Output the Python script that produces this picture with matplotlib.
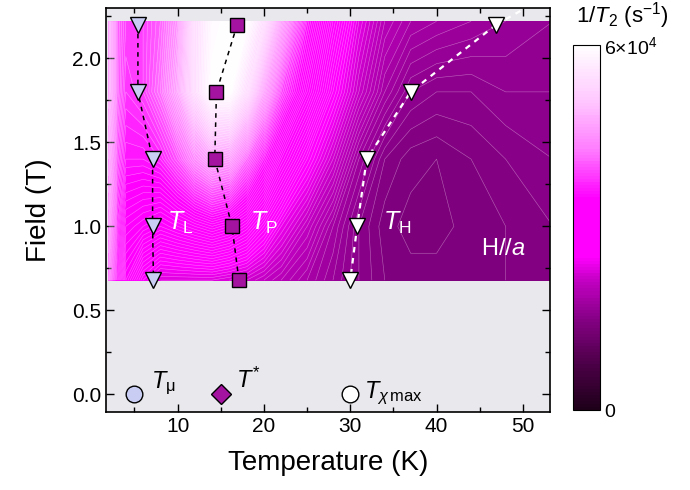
import numpy as np
import matplotlib
matplotlib.use('Agg')
import matplotlib.pyplot as plt
from matplotlib.colors import LinearSegmentedColormap

plt.rcParams['font.family'] = ['Liberation Sans', 'DejaVu Sans']
plt.rcParams['mathtext.fontset'] = 'custom'
plt.rcParams['mathtext.rm'] = 'Liberation Sans'
plt.rcParams['mathtext.it'] = 'Liberation Sans:italic'
plt.rcParams['mathtext.sf'] = 'Liberation Sans'

# 1/T2 map (units of 1e4 s^-1), rows = field, columns = temperature
temps = [2, 3, 4, 6, 8, 10, 12, 14, 16, 18, 20, 22, 25, 28, 31, 34, 37, 40, 44, 48, 53.5]
fields = [0.68, 1.0, 1.4, 1.8, 2.22]
rate_068 = [4.1, 3.4, 2.9, 2.5, 2.3, 2.3, 2.3, 2.3, 2.25, 2.2, 2.1, 2.0, 1.85, 1.7, 1.55, 1.45, 1.42, 1.42, 1.45, 1.45, 1.5]
rate_10 = [4.3, 3.6, 3.2, 3.1, 3.0, 3.1, 3.2, 3.3, 3.2, 3.0, 2.7, 2.4, 2.1, 1.8, 1.55, 1.42, 1.38, 1.38, 1.42, 1.45, 1.5]
rate_14 = [4.5, 3.9, 3.6, 3.6, 3.7, 4.0, 4.4, 4.7, 4.6, 4.1, 3.6, 3.1, 2.6, 2.2, 1.75, 1.5, 1.42, 1.4, 1.45, 1.5, 1.55]
rate_18 = [4.7, 4.1, 3.8, 3.9, 4.2, 4.7, 5.4, 6.0, 6.0, 5.4, 4.6, 3.9, 3.2, 2.6, 2.15, 1.8, 1.6, 1.55, 1.55, 1.6, 1.6]
rate_22 = [4.7, 4.1, 3.9, 3.9, 4.1, 4.5, 5.4, 5.9, 6.0, 6.0, 5.4, 4.6, 3.6, 2.9, 2.35, 2.0, 1.85, 1.8, 1.75, 1.7, 1.65]

# transition points
tl_T = [5.4, 5.4, 7.1, 7.1, 7.2]
tl_H = [2.2, 1.8, 1.4, 1.0, 0.68]
tp_T = [16.9, 14.5, 14.3, 16.3, 17.1]
tp_H = [2.2, 1.8, 1.4, 1.0, 0.68]
th_T = [46.9, 37.0, 31.9, 30.8, 30.0]
th_H = [2.2, 1.8, 1.4, 1.0, 0.68]
th_ext_T = [46.9, 50.0]
th_ext_H = [2.2, 2.29]

# zero-field temperatures
t_mu, t_star, t_chi = 5.0, 15.0, 30.0

lavender = '#c9cdf4'
purple = '#a3139f'

cmap = LinearSegmentedColormap.from_list('rate', [
    (0.0, '#1e0019'), (0.12, '#4a0045'), (0.25, '#860085'), (0.35, '#c000c0'),
    (0.42, '#ff00ff'), (0.58, '#ff00ff'), (0.72, '#ff80ff'), (0.85, '#ffc8ff'),
    (1.0, '#ffffff')])

Z = np.array([rate_068, rate_10, rate_14, rate_18, rate_22]) * 1e4

fig = plt.figure(figsize=(6.9, 4.9), dpi=100)
ax = fig.add_axes([0.1536, 0.159, 0.643, 0.825])
ax.set_facecolor('#e8e8ed')

cf = ax.contourf(temps, fields, Z, levels=np.linspace(0, 6e4, 121), cmap=cmap, vmin=0, vmax=6e4)
ax.contour(temps, fields, Z, levels=np.arange(0.05e4, 6e4, 0.05e4), colors='white',
           linewidths=0.4, alpha=0.4)

dash = (0, (3, 3))
ax.plot(tl_T, tl_H, ls=dash, color='k', lw=1.1, zorder=3)
ax.plot(tp_T, tp_H, ls=dash, color='k', lw=1.1, zorder=3)
ax.plot(th_T, th_H, ls=(0, (2.5, 2.5)), color='white', lw=1.6, zorder=3)
ax.plot(th_ext_T, th_ext_H, ls=(0, (2.5, 2.5)), color='white', lw=1.6, zorder=3)
ax.plot(tl_T, tl_H, 'v', ms=12, mfc=lavender, mec='k', mew=1, ls='none', zorder=4)
ax.plot(tp_T, tp_H, 's', ms=10, mfc=purple, mec='k', mew=1, ls='none', zorder=4)
ax.plot(th_T, th_H, 'v', ms=12, mfc='white', mec='k', mew=1, ls='none', zorder=4)

ax.plot(t_mu, 0, 'o', ms=12, mfc=lavender, mec='k', mew=1, zorder=4)
ax.plot(t_star, 0, 'D', ms=10, mfc=purple, mec='k', mew=1, zorder=4)
ax.plot(t_chi, 0, 'o', ms=12, mfc='white', mec='k', mew=1, zorder=4)

ax.text(8.8, 0.98, r'$T_{\mathrm{L}}$', color='white', fontsize=18)
ax.text(18.4, 0.98, r'$T_{\mathrm{P}}$', color='white', fontsize=18)
ax.text(33.8, 0.98, r'$T_{\mathrm{H}}$', color='white', fontsize=18)
ax.text(45.2, 0.83, r'H//$a$', color='white', fontsize=17)
ax.text(6.9, 0.04, r'$T_{\mathrm{\mu}}$', color='k', fontsize=17)
ax.text(16.8, 0.04, r'$T^{*}$', color='k', fontsize=17)
ax.text(31.6, -0.02, r'$T_{\chi\,\mathrm{max}}$', color='k', fontsize=17)

ax.set_xlim(1.7, 53.1)
ax.set_ylim(-0.105, 2.3)
ax.set_xticks([10, 20, 30, 40, 50])
ax.set_xticks(np.arange(5, 55, 5), minor=True)
ax.set_yticks([0, 0.5, 1.0, 1.5, 2.0])
ax.set_yticklabels(['0.0', '0.5', '1.0', '1.5', '2.0'])
ax.set_yticks(np.arange(0, 2.3, 0.25), minor=True)
ax.tick_params(which='both', direction='in', top=True, right=True, labelsize=15, width=1)
ax.tick_params(which='major', length=6)
ax.tick_params(which='minor', length=3.5)
for s in ax.spines.values():
    s.set_linewidth(1.2)
ax.set_xlabel('Temperature (K)', fontsize=20, labelpad=10)
ax.set_ylabel('Field (T)', fontsize=20, labelpad=14)

cax = fig.add_axes([0.830, 0.163, 0.039, 0.745])
cb = fig.colorbar(cf, cax=cax, ticks=[0, 6e4])
cb.ax.tick_params(length=0, labelsize=14)
cb.ax.set_yticklabels(['0', r'6×10$^4$'])
cb.outline.set_linewidth(0.8)
fig.text(0.835, 0.955, r'1/$T_2$ (s$^{\mathrm{-1}}$)', fontsize=16)

fig.savefig('out.png', dpi=100)
